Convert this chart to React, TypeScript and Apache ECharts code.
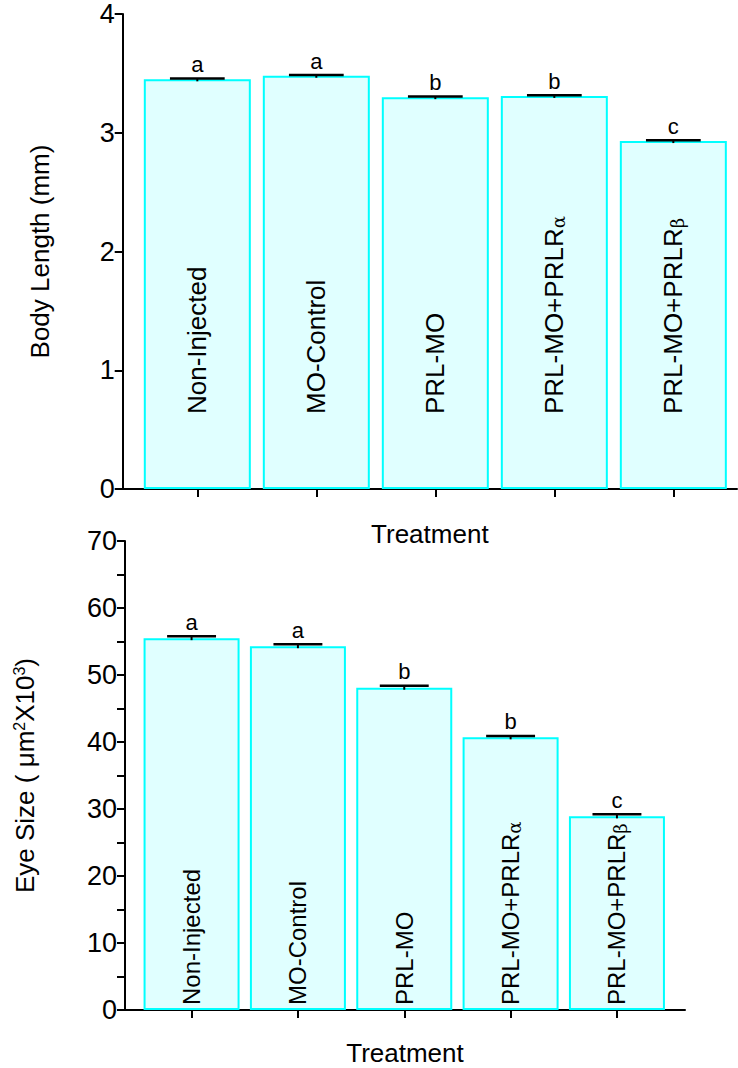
import React, { useEffect, useRef } from "react";
import * as echarts from "echarts";

const categories = ["Non-Injected", "MO-Control", "PRL-MO", "PRL-MO+PRLRα", "PRL-MO+PRLRβ"];
const bodyLength = [3.45, 3.48, 3.3, 3.31, 2.93];
const bodyLengthErr = [0.006, 0.006, 0.006, 0.006, 0.006];
const bodyLetters = ["a", "a", "b", "b", "c"];
const eyeSize = [55.5, 54.3, 48.1, 40.7, 28.9];
const eyeSizeErr = [0.3, 0.3, 0.3, 0.2, 0.3];
const eyeLetters = ["a", "a", "b", "b", "c"];
const bodyTicks = [0, 1, 2, 3, 4];
const eyeTicks = [0, 10, 20, 30, 40, 50, 60, 70];

const FONT = "'Liberation Sans', Arial, Helvetica, sans-serif";

function labelFormat(name: string) {
  const last = name.slice(-1);
  if (last === "α" || last === "β") {
    return `{t|${name.slice(0, -1)}}{g|${last}}`;
  }
  return `{t|${name}}`;
}

function barSeries(values: number[], xi: number, width: number, dist: number, fs: number) {
  return {
    type: "bar",
    xAxisIndex: xi,
    yAxisIndex: xi,
    barWidth: width,
    data: values.map((v, i) => ({ value: [i + 1, v], name: categories[i] })),
    itemStyle: { color: "#E0FFFF", borderColor: "#00FFFF", borderWidth: 2 },
    label: {
      show: true,
      position: "insideBottom",
      distance: dist,
      rotate: 90,
      align: "left",
      verticalAlign: "middle",
      formatter: (p: any) => labelFormat(p.name),
      rich: {
        t: { fontSize: fs, color: "#000", fontFamily: FONT },
        g: { fontSize: 18, color: "#000", fontFamily: "'DejaVu Serif', serif", padding: [8, 0, 0, 0] },
      },
    },
    z: 2,
  };
}

function errSeries(values: number[], errs: number[], letters: string[], xi: number, capFrac: number) {
  return {
    type: "custom",
    xAxisIndex: xi,
    yAxisIndex: xi,
    z: 5,
    data: values.map((v, i) => [i + 1, v, errs[i], i]),
    renderItem: (params: any, api: any) => {
      const x = api.value(0);
      const y = api.value(1);
      const e = api.value(2);
      const idx = api.value(3);
      const p0 = api.coord([x, y]);
      const p1 = api.coord([x, y + e]);
      const hw = api.size([1, 0])[0] * capFrac;
      return {
        type: "group",
        children: [
          {
            type: "line",
            shape: { x1: p0[0], y1: p0[1] + 2, x2: p1[0], y2: p1[1] },
            style: { stroke: "#000", lineWidth: 2 },
          },
          {
            type: "line",
            shape: { x1: p1[0] - hw, y1: p1[1], x2: p1[0] + hw, y2: p1[1] },
            style: { stroke: "#000", lineWidth: 2.5 },
          },
          {
            type: "text",
            style: {
              text: letters[idx],
              x: p1[0],
              y: p1[1] - 3,
              align: "center",
              verticalAlign: "bottom",
              fontSize: 22,
              fontFamily: FONT,
              fill: "#000",
            },
          },
        ],
      };
    },
  };
}

export default function App() {
  const ref = useRef<HTMLDivElement>(null);
  useEffect(() => {
    if (!ref.current) return;
    const chart = echarts.init(ref.current, undefined, { renderer: "svg" });
    const axisLine = { show: true, lineStyle: { color: "#000", width: 2 } };
    const yTick = { show: true, inside: false, length: 8, lineStyle: { color: "#000", width: 2 } };
    const yLabel = { color: "#000", fontSize: 27, fontFamily: FONT, margin: 8 };
    const nameStyle = { color: "#000", fontSize: 26, fontFamily: FONT };
    chart.setOption({
      animation: false,
      backgroundColor: "#fff",
      grid: [
        { left: 122.7, top: 14, width: 614.3, height: 475 },
        { left: 125, top: 541, width: 560, height: 469 },
      ],
      xAxis: [
        {
          type: "value",
          gridIndex: 0,
          min: 0.373,
          max: 5.535,
          axisLine,
          axisTick: { show: true, length: 8, customValues: [1, 2, 3, 4, 5], lineStyle: { color: "#000", width: 2 } },
          axisLabel: { show: false },
          splitLine: { show: false },
          name: "Treatment",
          nameLocation: "middle",
          nameGap: 32,
          nameTextStyle: nameStyle,
        },
        {
          type: "value",
          gridIndex: 1,
          min: 0.374,
          max: 5.64,
          axisLine,
          axisTick: { show: true, length: 8, customValues: [1, 2, 3, 4, 5], lineStyle: { color: "#000", width: 2 } },
          axisLabel: { show: false },
          splitLine: { show: false },
          name: "Treatment",
          nameLocation: "middle",
          nameGap: 30,
          nameTextStyle: nameStyle,
        },
      ],
      yAxis: [
        {
          type: "value",
          gridIndex: 0,
          min: bodyTicks[0],
          max: bodyTicks[bodyTicks.length - 1],
          interval: 1,
          axisLine,
          axisTick: yTick,
          axisLabel: yLabel,
          splitLine: { show: false },
          name: "Body Length (mm)",
          nameLocation: "middle",
          nameGap: 70,
          nameTextStyle: nameStyle,
        },
        {
          type: "value",
          gridIndex: 1,
          min: eyeTicks[0],
          max: eyeTicks[eyeTicks.length - 1],
          interval: 10,
          axisLine,
          axisTick: yTick,
          minorTick: { show: true, splitNumber: 2, length: 8, lineStyle: { color: "#000", width: 2 } },
          axisLabel: yLabel,
          splitLine: { show: false },
          name: "Eye Size ( μm{s|2}X10{s|3})",
          nameLocation: "middle",
          nameGap: 86,
          nameTextStyle: {
            ...nameStyle,
            rich: { s: { fontSize: 16, fontFamily: FONT, color: "#000", padding: [0, 0, 12, 0] } },
          },
        },
      ],
      series: [
        barSeries(bodyLength, 0, 107, 75, 26),
        errSeries(bodyLength, bodyLengthErr, bodyLetters, 0, 0.23),
        barSeries(eyeSize, 1, 96, 5, 24),
        errSeries(eyeSize, eyeSizeErr, eyeLetters, 1, 0.23),
      ],
    });
    return () => chart.dispose();
  }, []);
  return (
    <div
      ref={ref}
      style={{ position: "absolute", left: 0, top: 0, width: 738, height: 1068 }}
    />
  );
}
